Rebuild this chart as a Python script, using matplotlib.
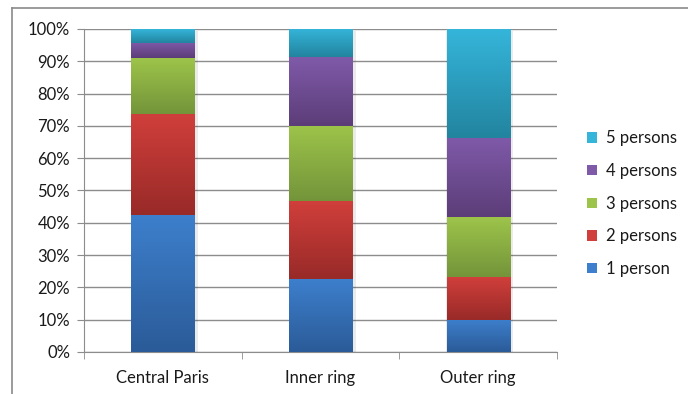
import numpy as np
import matplotlib
matplotlib.use("Agg")
import matplotlib.pyplot as plt
from matplotlib.colors import LinearSegmentedColormap
from matplotlib.patches import Patch
from matplotlib.lines import Line2D
from matplotlib.ticker import FuncFormatter

# household size shares (%) per zone
zones = ["Central Paris", "Inner ring", "Outer ring"]
labels = ["1 person", "2 persons", "3 persons", "4 persons", "5 persons"]
one_person = [42.4, 22.6, 10.0]
two_persons = [31.2, 24.0, 13.3]
three_persons = [17.3, 23.5, 18.5]
four_persons = [4.8, 21.1, 24.6]
five_persons = [4.3, 8.8, 33.6]
series = [one_person, two_persons, three_persons, four_persons, five_persons]

# (top colour, bottom colour) of each gradient fill
shades = [("#3d7fcc", "#2b5b98"),
          ("#d03f3b", "#982a28"),
          ("#9dc44a", "#74943a"),
          ("#7f5aa9", "#5c3d78"),
          ("#35b5da", "#22849f")]

plt.rcParams['font.family'] = ['Lato', 'DejaVu Sans']
fig = plt.figure(figsize=(6.88, 3.94), dpi=100)
ax = fig.add_axes([0.1221, 0.1066, 0.6875, 0.8198])

x = np.arange(len(zones))
width = 0.4
grad = np.linspace(0, 1, 256).reshape(-1, 1)
bottom = np.zeros(len(zones))
for vals, (top_c, bot_c), lab in zip(series, shades, labels):
    bars = ax.bar(x, vals, width, bottom=bottom, color=top_c, linewidth=0, zorder=3)
    cmap = LinearSegmentedColormap.from_list(lab, [bot_c, top_c])
    for bar in bars:
        x0, y0 = bar.get_x(), bar.get_y()
        img = ax.imshow(grad, cmap=cmap, origin="lower", aspect="auto",
                        extent=[x0, x0 + bar.get_width(), y0, y0 + bar.get_height()],
                        zorder=4)
        img.set_clip_path(bar)
    bottom += np.array(vals)

# soft shadow around the bars
ax.bar(x + 0.01, 100, width + 0.025, bottom=-0.5, color="#000000", alpha=0.08,
       linewidth=0, zorder=2)

ax.set_xlim(-0.5, 2.5)
ax.set_ylim(0, 100)
ax.set_yticks(np.arange(0, 101, 10))
ax.yaxis.set_major_formatter(FuncFormatter(lambda v, p: f"{v:.0f}%"))
ax.set_xticks(x)
ax.set_xticklabels(zones)
ax.set_xticks([-0.5, 0.5, 1.5, 2.5], minor=True)

grid_c = "#8c8c8c"
ax.grid(axis="y", color=grid_c, linewidth=1, zorder=1)
ax.set_axisbelow(True)
for s in ["top", "right"]:
    ax.spines[s].set_visible(False)
for s in ["left", "bottom"]:
    ax.spines[s].set_color(grid_c)
ax.tick_params(axis="y", length=5, color=grid_c, labelsize=12, pad=5, labelcolor="#1a1a1a")
ax.tick_params(axis="x", which="major", length=0, labelsize=12, pad=13, labelcolor="#1a1a1a")
ax.tick_params(axis="x", which="minor", length=5, color=grid_c)

handles = [Patch(facecolor=c[0], edgecolor="none") for c in shades]
fig.legend(handles[::-1], labels[::-1], loc="center left", bbox_to_anchor=(0.832, 0.483),
           frameon=False, fontsize=12, handlelength=0.6, handleheight=0.6,
           handletextpad=0.5, labelspacing=1.0, labelcolor="#1a1a1a")

# outer chart border
border_c = "#8a8a8a"
fig.add_artist(Line2D([12 / 688, 12 / 688], [0, 1 - 8 / 394], color=border_c, lw=1.2))
fig.add_artist(Line2D([12 / 688, 1], [1 - 8 / 394, 1 - 8 / 394], color=border_c, lw=1.2))

fig.savefig("out.png", dpi=100)
